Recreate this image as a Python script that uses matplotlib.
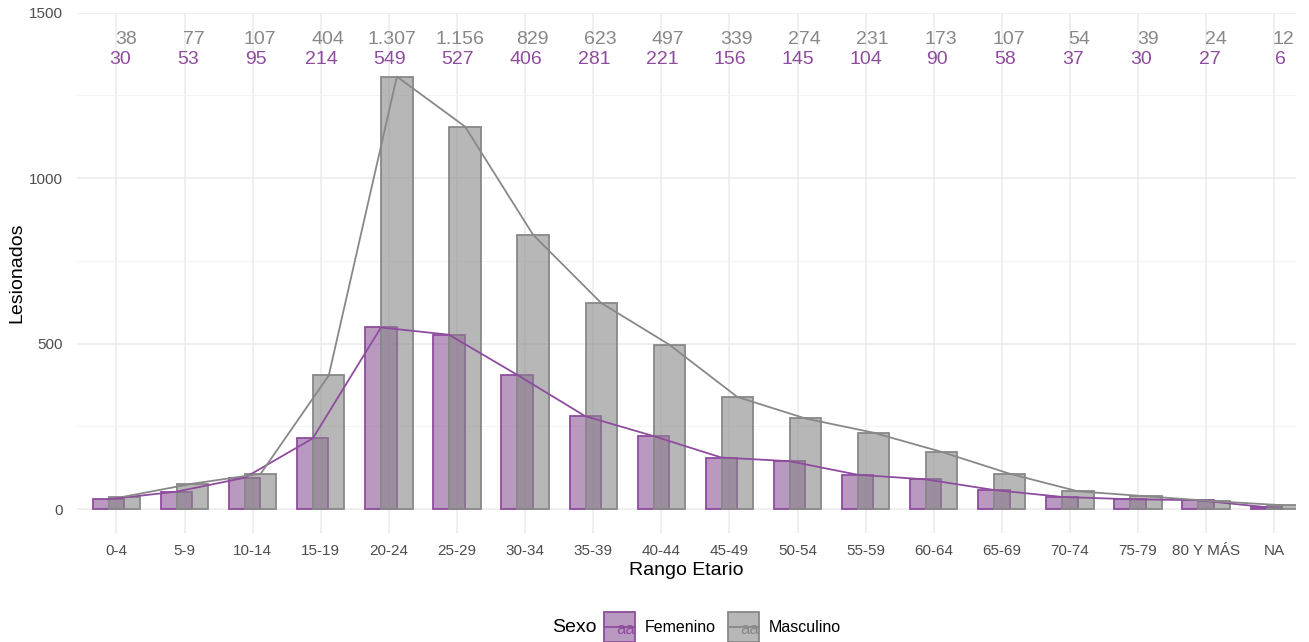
import numpy as np
import matplotlib
matplotlib.use("Agg")
import matplotlib.pyplot as plt
from matplotlib.patches import Rectangle
from matplotlib.lines import Line2D

plt.rcParams["font.family"] = ["Liberation Sans", "DejaVu Sans"]

# ── Data ──────────────────────────────────────────────────────────────────────
rangos = ["0-4", "5-9", "10-14", "15-19", "20-24", "25-29", "30-34", "35-39",
          "40-44", "45-49", "50-54", "55-59", "60-64", "65-69", "70-74",
          "75-79", "80 Y MÁS", "NA"]
masculino = [38, 77, 107, 404, 1307, 1156, 829, 623, 497, 339, 274, 231,
             173, 107, 54, 39, 24, 12]
femenino = [30, 53, 95, 214, 549, 527, 406, 281, 221, 156, 145, 104,
            90, 58, 37, 30, 27, 6]
y_ticks = [0, 500, 1000, 1500]

# ── Style ─────────────────────────────────────────────────────────────────────
PURPLE = "#8E4C9E"
PURPLE_FILL = "#8C5596"
GREY = "#888888"
W, H = 1309, 642
BAR_W = 0.46
OFF = 0.117


def fmt(v):
    return f"{v:,}".replace(",", ".")


fig = plt.figure(figsize=(W / 100, H / 100), dpi=100)
ax = fig.add_axes([77 / W, 109 / H, (1296 - 77) / W, (629.3 - 109) / H])

x = np.arange(len(rangos))

ax.bar(x - OFF, femenino, width=BAR_W, color=PURPLE_FILL, alpha=0.6,
       edgecolor="none", zorder=2)
ax.bar(x - OFF, femenino, width=BAR_W, fill=False, edgecolor=PURPLE,
       lw=1.3, zorder=2)
ax.bar(x + OFF, masculino, width=BAR_W, color=GREY, alpha=0.6,
       edgecolor="none", zorder=3)
ax.bar(x + OFF, masculino, width=BAR_W, fill=False, edgecolor=GREY,
       lw=1.3, zorder=3)

ax.plot(x - OFF, femenino, color=PURPLE, lw=1.3, zorder=4)
ax.plot(x + OFF, masculino, color=GREY, lw=1.3, zorder=4)

# value labels at the top (ggplot hjust ~0.75)
texts = []
for i in range(len(rangos)):
    texts.append(ax.text(x[i] + 0.22, 1418, fmt(masculino[i]), color=GREY,
                         fontsize=14, ha="right", va="center", zorder=5))
    texts.append(ax.text(x[i] + 0.13, 1358, fmt(femenino[i]), color=PURPLE,
                         fontsize=14, ha="right", va="center", zorder=5))

ax.set_xlim(-0.58, 17.32)
ax.set_ylim(-72, 1500)
ax.set_xticks(x)
ax.set_xticklabels(rangos)
ax.set_yticks(y_ticks)
ax.set_yticks([250, 750, 1250], minor=True)
ax.tick_params(axis="both", which="both", length=0, labelsize=11,
               colors="#4D4D4D")
ax.tick_params(axis="y", pad=10)
ax.tick_params(axis="x", pad=8)
ax.grid(which="major", color="#EBEBEB", lw=1.1, zorder=0)
ax.grid(which="minor", axis="y", color="#F2F2F2", lw=0.6, zorder=0)
ax.set_axisbelow(True)
for s in ax.spines.values():
    s.set_visible(False)

ax.set_xlabel("Rango Etario", fontsize=14, labelpad=3)
ax.set_ylabel("Lesionados", fontsize=14, labelpad=3)

# shift labels to emulate hjust 0.75
fig.canvas.draw()
renderer = fig.canvas.get_renderer()
for t in texts:
    w = t.get_window_extent(renderer).width
    disp = ax.transData.transform(t.get_position())
    disp[0] += 0.25 * w
    t.set_position(ax.transData.inverted().transform(disp))

# ── Legend (drawn by hand, ggplot style) ──────────────────────────────────────
fig.text(574 / W, 1 - 627 / H, "Sexo", fontsize=14, ha="center", va="center")
for kx, col, fill, lab in [(604, PURPLE, PURPLE_FILL, "Femenino"),
                           (728, GREY, GREY, "Masculino")]:
    fig.patches.append(Rectangle((kx / W, 1 - 642 / H), 31 / W, 30 / H,
                                 transform=fig.transFigure, facecolor=fill,
                                 alpha=0.6, edgecolor="none"))
    fig.patches.append(Rectangle((kx / W, 1 - 642 / H), 31 / W, 30 / H,
                                 transform=fig.transFigure, fill=False,
                                 edgecolor=col, lw=1.3))
    fig.lines.append(Line2D([kx / W, (kx + 31) / W],
                            [1 - 627 / H, 1 - 627 / H],
                            transform=fig.transFigure, color=col, lw=1.3))
    fig.text((kx + 22) / W, 1 - 629 / H, "aa", color=col, fontsize=12,
             ha="center", va="center")
    fig.text((kx + 41) / W, 1 - 627 / H, lab, fontsize=11.5,
             ha="left", va="center")

fig.savefig("out.png", dpi=100)
